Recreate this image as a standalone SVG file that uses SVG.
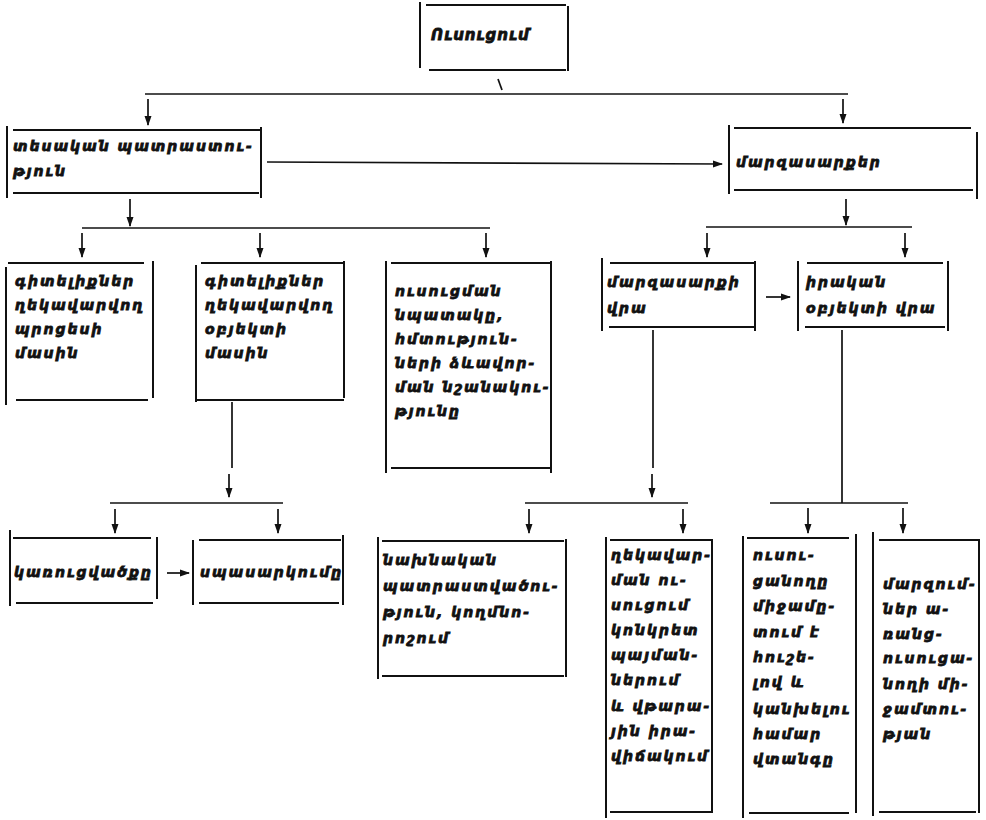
<svg xmlns="http://www.w3.org/2000/svg" width="986" height="820" viewBox="0 0 986 820">
<style>
.bx{fill:none;stroke:#111;stroke-width:2;stroke-linecap:square}
.cn{fill:none;stroke:#111;stroke-width:1.7}
.ar{fill:none;stroke:#111;stroke-width:1.7;marker-end:url(#ah)}
text{font-family:"DejaVu Sans","Noto Sans",sans-serif;font-weight:bold;font-style:italic;font-size:14px;letter-spacing:2px;fill:#111;stroke:#111;stroke-width:0.8}
.tt{font-size:15px;letter-spacing:1px}
</style>
<defs>
<marker id="ah" markerUnits="userSpaceOnUse" markerWidth="10" markerHeight="10" viewBox="0 0 10 10" refX="9" refY="5" orient="auto">
<path d="M0,1.5 L10,5 L0,8.5 Z" fill="#111"/>
</marker>
</defs>
<rect width="986" height="820" fill="#fff"/>
<g id="connectors">
<line class="cn" x1="498" y1="79" x2="502" y2="90"/>
<line class="cn" x1="145" y1="94" x2="848" y2="94"/>
<line class="ar" x1="148" y1="99" x2="148" y2="125"/>
<line class="ar" x1="843" y1="99" x2="843" y2="123"/>
<line class="ar" x1="267" y1="162" x2="722" y2="164"/>
<line class="ar" x1="130" y1="199" x2="130" y2="226"/>
<line class="cn" x1="82" y1="228" x2="490" y2="228"/>
<line class="ar" x1="82" y1="233" x2="82" y2="257"/>
<line class="ar" x1="260" y1="233" x2="260" y2="257"/>
<line class="ar" x1="486" y1="233" x2="486" y2="257"/>
<line class="ar" x1="846" y1="199" x2="846" y2="225"/>
<line class="cn" x1="706" y1="227" x2="912" y2="227"/>
<line class="ar" x1="707" y1="233" x2="707" y2="257"/>
<line class="ar" x1="905" y1="233" x2="905" y2="257"/>
<line class="ar" x1="766" y1="297" x2="790" y2="297"/>
<line class="cn" x1="232" y1="402" x2="232" y2="468"/>
<line class="ar" x1="229" y1="474" x2="229" y2="497"/>
<line class="cn" x1="110" y1="503" x2="283" y2="503"/>
<line class="ar" x1="115" y1="509" x2="115" y2="533"/>
<line class="ar" x1="278" y1="509" x2="278" y2="533"/>
<line class="ar" x1="167" y1="573" x2="189" y2="573"/>
<line class="cn" x1="653" y1="330" x2="653" y2="468"/>
<line class="ar" x1="652" y1="474" x2="652" y2="497"/>
<line class="cn" x1="525" y1="503" x2="688" y2="503"/>
<line class="ar" x1="529" y1="509" x2="529" y2="533"/>
<line class="ar" x1="683" y1="509" x2="683" y2="533"/>
<line class="cn" x1="842" y1="330" x2="842" y2="503"/>
<line class="cn" x1="770" y1="503" x2="908" y2="503"/>
<line class="ar" x1="808" y1="508" x2="808" y2="533"/>
<line class="ar" x1="903" y1="508" x2="903" y2="533"/>
</g>
<g id="n1">
<path class="bx" d="M420,3V67M568,7V70M427,5H565M430,70H565"/>
<text class="tt" x="431" y="40">Ուսուցում</text>
</g>
<g id="n2">
<path class="bx" d="M7,127V197M261,128V197M14,130H260M14,193H258"/>
<text x="13" y="151">տեսական պատրաստու-</text>
<text x="13" y="176">թյուն</text>
</g>
<g id="n3">
<path class="bx" d="M729,126V193M977,133V198M735,128H970M735,190H972"/>
<text x="736" y="167">մարզասարքեր</text>
</g>
<g id="n4">
<path class="bx" d="M6,268V404M153,262V397M9,263H143M17,400H147"/>
<text x="15" y="286">գիտելիքներ</text>
<text x="15" y="310">ղեկավարվող</text>
<text x="15" y="334">պրոցեսի</text>
<text x="15" y="358">մասին</text>
</g>
<g id="n5">
<path class="bx" d="M196,266V401M344,262V397M202,263H343M197,400H343"/>
<text x="205" y="286">գիտելիքներ</text>
<text x="205" y="310">ղեկավարվող</text>
<text x="205" y="334">օբյեկտի</text>
<text x="205" y="358">մասին</text>
</g>
<g id="n6">
<path class="bx" d="M386,262V472M551,262V472M392,263H550M392,468H550"/>
<text x="395" y="296">ուսուցման</text>
<text x="395" y="320">նպատակը,</text>
<text x="395" y="344">հմտություն-</text>
<text x="395" y="368">ների ձևավոր-</text>
<text x="395" y="392">ման նշանակու-</text>
<text x="395" y="416">թյունը</text>
</g>
<g id="n7">
<path class="bx" d="M602,259V330M755,262V330M611,263H754M610,327H754"/>
<text x="607" y="287">մարզասարքի</text>
<text x="607" y="313">վրա</text>
</g>
<g id="n8">
<path class="bx" d="M798,262V330M948,262V330M808,263H942M806,327H944"/>
<text x="806" y="287">իրական</text>
<text x="806" y="313">օբյեկտի վրա</text>
</g>
<g id="n9">
<path class="bx" d="M10,531V605M157,538V598M14,538H150M17,603H152"/>
<text x="14" y="577">կառուցվածքը</text>
</g>
<g id="n10">
<path class="bx" d="M193,541V604M343,536V604M200,540H340M200,603H338"/>
<text x="200" y="577">սպասարկումը</text>
</g>
<g id="n11">
<path class="bx" d="M378,538V678M566,540V676M383,541H563M383,676H563"/>
<text x="383" y="565">նախնական</text>
<text x="383" y="591">պատրաստվածու-</text>
<text x="383" y="617">թյուն, կողմնո-</text>
<text x="383" y="643">րոշում</text>
</g>
<g id="n12">
<path class="bx" d="M606,538V817M712,540V812M611,540H710M611,812H710"/>
<text x="611" y="560">ղեկավար-</text>
<text x="611" y="585">ման ու-</text>
<text x="611" y="610">սուցում</text>
<text x="611" y="635">կոնկրետ</text>
<text x="611" y="660">պայման-</text>
<text x="611" y="685">ներում</text>
<text x="611" y="711">և վթարա-</text>
<text x="611" y="736">յին իրա-</text>
<text x="611" y="761">վիճակում</text>
</g>
<g id="n13">
<path class="bx" d="M743,537V817M856,535V812M748,538H848M750,813H848"/>
<text x="753" y="560">ուսու-</text>
<text x="753" y="586">ցանողը</text>
<text x="753" y="611">միջամը-</text>
<text x="753" y="637">տում է</text>
<text x="753" y="662">հուշե-</text>
<text x="753" y="687">լով և</text>
<text x="753" y="714">կանխելու</text>
<text x="753" y="739">համար</text>
<text x="753" y="764">վտանգը</text>
</g>
<g id="n14">
<path class="bx" d="M873,533V815M979,540V812M880,540H977M880,812H975"/>
<text x="883" y="589">մարզում-</text>
<text x="883" y="614">ներ ա-</text>
<text x="883" y="639">ռանց-</text>
<text x="883" y="663">ուսուցա-</text>
<text x="883" y="689">նողի մի-</text>
<text x="883" y="714">ջամտու-</text>
<text x="883" y="739">թյան</text>
</g>
</svg>
